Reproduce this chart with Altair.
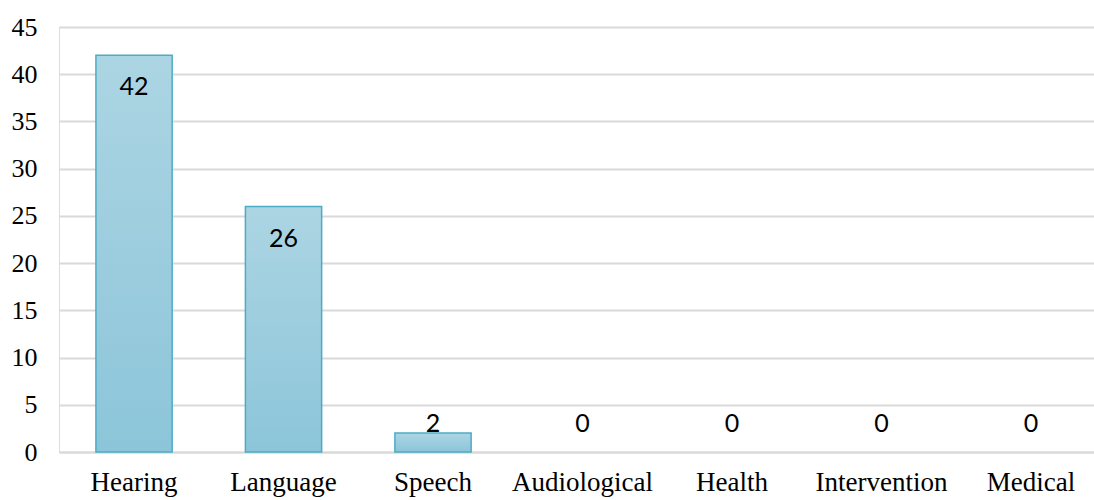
import altair as alt
import pandas as pd

# Counts per category
categories = ["Hearing", "Language", "Speech", "Audiological", "Health", "Intervention", "Medical"]
counts = [42, 26, 2, 0, 0, 0, 0]

df = pd.DataFrame({"category": categories, "count": counts})

# The band range runs a little past the visible plot edge on the right
x_enc = alt.X(
    "category:N",
    sort=categories,
    title=None,
    scale=alt.Scale(paddingInner=0.49, paddingOuter=0.247, range=[0, 1047]),
    axis=alt.Axis(
        labelAngle=0,
        labelFont="Liberation Serif",
        labelFontSize=27,
        labelColor="#000000",
        labelPadding=17,
        ticks=False,
        domain=True,
        domainColor="#d9d9d9",
        domainWidth=2,
        grid=False,
    ),
)

y_scale = alt.Scale(domain=[0, 45], nice=False)

# Zero-height bars are left out so no outline shows on the baseline
bars = alt.Chart(df).transform_filter("datum.count > 0").mark_bar(
    color=alt.Gradient(
        gradient="linear",
        stops=[
            alt.GradientStop(color="#acd5e3", offset=0),
            alt.GradientStop(color="#8cc5d9", offset=1),
        ],
        x1=0, x2=0, y1=0, y2=1,
    ),
    stroke="#4bacc6",
    strokeWidth=1.5,
).encode(
    x=x_enc,
    y=alt.Y(
        "count:Q",
        title=None,
        scale=y_scale,
        axis=alt.Axis(
            values=list(range(0, 46, 5)),
            labelFont="Liberation Serif",
            labelFontSize=26,
            labelColor="#000000",
            labelPadding=22,
            ticks=False,
            domain=False,
            gridColor="#d9d9d9",
            gridWidth=2,
        ),
    ),
)

# Value labels sit just inside the bar end, but never below a minimum height
labels = alt.Chart(df).transform_calculate(
    label_pos="max(datum.count - 3.4, 3.0)"
).mark_text(
    font="Lato",
    fontSize=25,
    color="#000000",
    baseline="middle",
).encode(
    x=alt.X("category:N", sort=categories),
    y=alt.Y("label_pos:Q", scale=y_scale),
    text=alt.Text("count:Q"),
)

chart = alt.layer(bars, labels).properties(
    width=1035,
    height=425,
    autosize=alt.AutoSizeParams(type="none"),
    padding={"left": 59, "top": 27, "right": 0, "bottom": 48},
).configure_view(stroke=None).configure(background="#ffffff")

chart.save("out.html", embed_options={"renderer": "svg", "actions": False})
